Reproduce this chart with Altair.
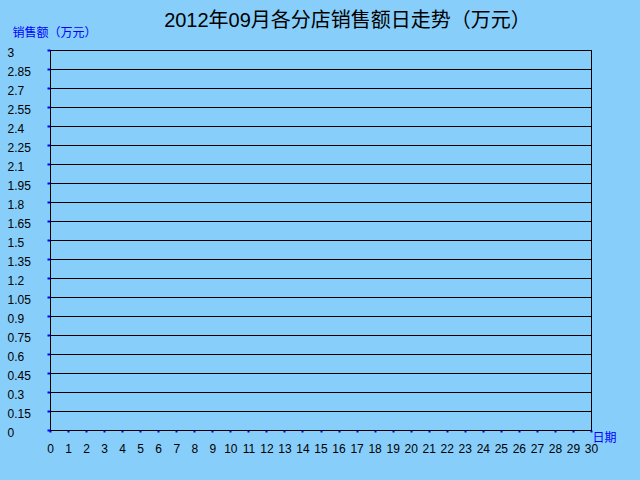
import altair as alt
import pandas as pd

# Days on x axis (tick values)
day_ticks = [0, 1, 2, 3, 4, 5, 6, 7, 8, 9, 10, 11, 12, 13, 14, 15, 16, 17, 18, 19,
             20, 21, 22, 23, 24, 25, 26, 27, 28, 29, 30]
# Sales (万元) tick values on y axis
sales_ticks = [0, 0.15, 0.3, 0.45, 0.6, 0.75, 0.9, 1.05, 1.2, 1.35, 1.5, 1.65, 1.8,
               1.95, 2.1, 2.25, 2.4, 2.55, 2.7, 2.85, 3]
# The reference chart shows no series data
series_day = []
series_sales = []

FONT = "Liberation Sans, Arial, Noto Sans CJK SC"
CJK = "Noto Sans CJK SC, Liberation Sans"

df = pd.DataFrame({"day": pd.Series(series_day, dtype=float),
                   "sales": pd.Series(series_sales, dtype=float)})

chart = alt.Chart(df).mark_line(color="blue").encode(
    x=alt.X("day:Q",
            scale=alt.Scale(domain=[0, 30], nice=False, zero=True),
            axis=alt.Axis(values=day_ticks, labelExpr="'' + datum.value",
                          grid=False, labelFlush=False,
                          domainColor="black", domainWidth=1,
                          tickColor="blue", tickSize=2, tickWidth=2,
                          labelPadding=11, labelFontSize=12, labelFont=FONT,
                          labelColor="black", labelOverlap=False,
                          title="日期", titleX=542, titleY=7,
                          titleAlign="left", titleBaseline="middle",
                          titleColor="blue", titleFontSize=12,
                          titleFontWeight="normal", titleFont=CJK)),
    y=alt.Y("sales:Q",
            scale=alt.Scale(domain=[0, 3], nice=False, zero=True),
            axis=alt.Axis(values=sales_ticks, labelExpr="'' + datum.value",
                          grid=True, labelFlush=False,
                          gridColor="black", gridOpacity=1, gridWidth=1,
                          domainColor="black", domainWidth=1,
                          tickColor="blue", tickSize=3, tickWidth=2,
                          labelAlign="left", labelPadding=40,
                          labelBaseline="middle", labelOffset=2,
                          labelFontSize=12, labelFont=FONT,
                          labelColor="black", labelOverlap=False,
                          title="销售额（万元）", titleAngle=0,
                          titleX=-38, titleY=-18,
                          titleAlign="left", titleBaseline="middle",
                          titleColor="blue", titleFontSize=12,
                          titleFontWeight="normal", titleFont=CJK)),
).properties(
    width=541,
    height=380,
    title=alt.TitleParams("2012年09月各分店销售额日走势（万元）",
                          fontSize=20, font=FONT, fontWeight="normal",
                          color="black", anchor="middle", dx=27,
                          baseline="alphabetic", offset=-21),
    background="#87CEFA",
    padding={"left": 50, "top": 50, "right": 49, "bottom": 50},
    autosize="none",
).configure_view(stroke="black", strokeWidth=1)

chart.save("out.html", embed_options={"renderer": "svg", "actions": False})
